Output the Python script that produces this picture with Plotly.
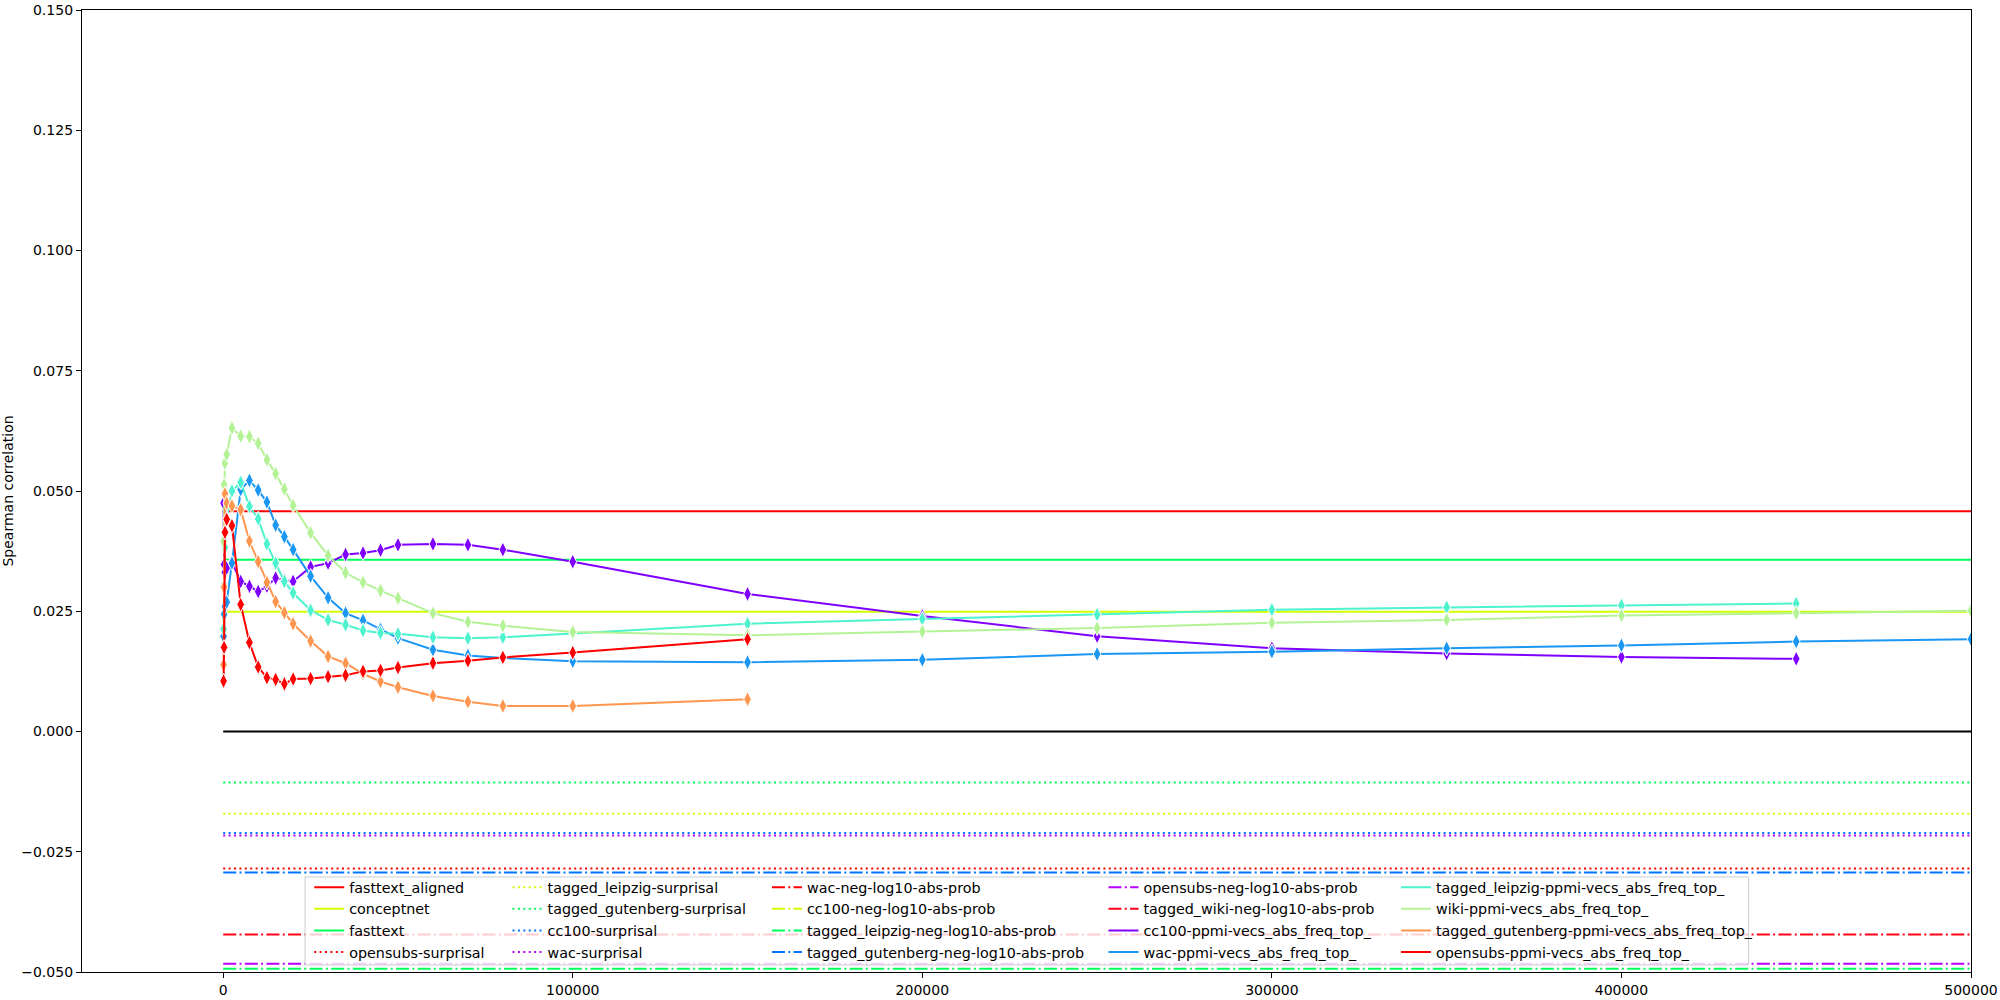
import plotly.graph_objects as go

# ---------------- data ----------------
X_GRID = [100, 250, 500, 1000, 2500, 5000, 7500, 10000, 12500, 15000, 17500, 20000,
          25000, 30000, 35000, 40000, 45000, 50000, 60000, 70000, 80000, 100000,
          150000, 200000, 250000, 300000, 350000, 400000, 450000, 500000]

cc100_ppmi = [0.0475, 0.0347, 0.0331, 0.0340, 0.0352, 0.0312, 0.0302, 0.0291, 0.0302, 0.0319,
              0.0315, 0.0312, 0.0342, 0.0350, 0.0368, 0.0371, 0.0377, 0.0388, 0.0390, 0.0388,
              0.0378, 0.0353, 0.0286, 0.0240, 0.0198, 0.0173, 0.0162, 0.0155, 0.0151]
wac_ppmi = [0.0198, 0.0244, 0.0260, 0.0269, 0.0350, 0.0503, 0.0522, 0.0502, 0.0477, 0.0429,
            0.0405, 0.0378, 0.0323, 0.0278, 0.0246, 0.0231, 0.0212, 0.0194, 0.0170, 0.0158,
            0.0153, 0.0146, 0.0144, 0.0149, 0.0161, 0.0166, 0.0173, 0.0179, 0.0187, 0.0192]
leipzig_ppmi = [0.0213, 0.0305, 0.0383, 0.0443, 0.0500, 0.0518, 0.0468, 0.0442, 0.0390, 0.0350,
                0.0312, 0.0288, 0.0252, 0.0232, 0.0222, 0.0210, 0.0205, 0.0203, 0.0196, 0.0194,
                0.0196, 0.0204, 0.0224, 0.0234, 0.0243, 0.0253, 0.0258, 0.0262, 0.0266]
wiki_ppmi = [0.0395, 0.0513, 0.0558, 0.0576, 0.0631, 0.0614, 0.0613, 0.0599, 0.0565, 0.0536,
             0.0504, 0.0470, 0.0413, 0.0366, 0.0330, 0.0310, 0.0293, 0.0277, 0.0246, 0.0228,
             0.0220, 0.0207, 0.0200, 0.0208, 0.0215, 0.0226, 0.0232, 0.0241, 0.0246, 0.0251]
gutenberg_ppmi = [0.0139, 0.0300, 0.0494, 0.0475, 0.0469, 0.0461, 0.0396, 0.0353, 0.0310, 0.0270,
                  0.0247, 0.0224, 0.0188, 0.0156, 0.0142, 0.0120, 0.0104, 0.0092, 0.0074, 0.0062,
                  0.0053, 0.0053, 0.0067]
opensubs_ppmi = [0.0105, 0.0175, 0.0414, 0.0441, 0.0428, 0.0264, 0.0185, 0.0134, 0.0112, 0.0108,
                 0.0099, 0.0109, 0.0110, 0.0114, 0.0117, 0.0125, 0.0127, 0.0133, 0.0142, 0.0147,
                 0.0154, 0.0164, 0.0192]

BASE_X = [0, 500000]
baseline_names = ["fasttext_aligned", "conceptnet", "fasttext",
                  "opensubs-surprisal", "tagged_leipzig-surprisal", "tagged_gutenberg-surprisal",
                  "cc100-surprisal", "wac-surprisal",
                  "wac-neg-log10-abs-prob", "cc100-neg-log10-abs-prob",
                  "tagged_leipzig-neg-log10-abs-prob", "tagged_gutenberg-neg-log10-abs-prob",
                  "opensubs-neg-log10-abs-prob", "tagged_wiki-neg-log10-abs-prob"]
baseline_values = [0.0458, 0.0249, 0.0357,
                   -0.0285, -0.0171, -0.0106, -0.0211, -0.0216,
                   -0.0560, -0.0580, -0.0493, -0.0293, -0.0483, -0.0422]
baseline_colors = ["#ff0000", "#d1ff00", "#00ff5c",
                   "#ff0000", "#d1ff00", "#00ff5c", "#0074ff", "#b900ff",
                   "#ff0000", "#d1ff00", "#00ff5c", "#0074ff", "#b900ff", "#ff0018"]
baseline_styles = ["solid", "solid", "solid",
                   "dot", "dot", "dot", "dot", "dot",
                   "dashdot", "dashdot", "dashdot", "dashdot", "dashdot", "dashdot"]

ppmi_names = ["cc100-ppmi-vecs_abs_freq_top_", "wac-ppmi-vecs_abs_freq_top_",
              "tagged_leipzig-ppmi-vecs_abs_freq_top_", "wiki-ppmi-vecs_abs_freq_top_",
              "tagged_gutenberg-ppmi-vecs_abs_freq_top_", "opensubs-ppmi-vecs_abs_freq_top_"]
ppmi_values = [cc100_ppmi, wac_ppmi, leipzig_ppmi, wiki_ppmi, gutenberg_ppmi, opensubs_ppmi]
ppmi_colors = ["#8000ff", "#1a96f3", "#4df3ce", "#b3f396", "#ff964f", "#ff0000"]

Y_TICKS = [-0.05, -0.025, 0.0, 0.025, 0.05, 0.075, 0.1, 0.125, 0.15]
X_TICKS = [0, 100000, 200000, 300000, 400000, 500000]

# ---------------- layout geometry ----------------
# The page is shown slightly scaled/offset (body margin); convert wanted screen
# pixels into figure pixels.
W, H = 2000, 1000
SX, BX, SY, BY = 0.991, 8.0, 0.984, 7.9


def fx(px):
    return (px - BX) / SX


def fy(py):
    return (py - BY) / SY


PL, PR, PT, PB = fx(84), fx(1970), fy(10), fy(972)


def paper_x(px):
    return (fx(px) - PL) / (PR - PL)


def paper_y(py):
    return (PB - fy(py)) / (PB - PT)


DASHES = {"solid": "solid", "dot": "2px,3.4px", "dashdot": "13px,3.3px,2px,3.3px"}
FONT = "DejaVu Sans"

# legend columns: 4 entries per column (column-major like matplotlib ncol=5)
legend_ids = ["legend", "legend2", "legend3", "legend4", "legend5"]
all_names = baseline_names + ppmi_names


def legend_for(name):
    return legend_ids[all_names.index(name) // 4]


fig = go.Figure()

for name, v, c, s in zip(baseline_names, baseline_values, baseline_colors, baseline_styles):
    fig.add_trace(go.Scatter(
        x=BASE_X, y=[v] * len(BASE_X), mode="lines", name=name,
        line=dict(color=c, width=2, dash=DASHES[s]),
        legend=legend_for(name), hoverinfo="skip"))

# zero reference line
fig.add_trace(go.Scatter(x=BASE_X, y=[0.0] * len(BASE_X), mode="lines",
                         line=dict(color="black", width=2), showlegend=False))

for name, vals, c in zip(ppmi_names, ppmi_values, ppmi_colors):
    fig.add_trace(go.Scatter(
        x=X_GRID[:len(vals)], y=vals, mode="lines+markers", name=name,
        line=dict(color=c, width=2),
        marker=dict(symbol="diamond-tall", size=11, color=c,
                    line=dict(color="white", width=1)),
        showlegend=False))
    # legend handle: line only (as in the reference)
    fig.add_trace(go.Scatter(
        x=[None], y=[None], mode="lines", name=name,
        line=dict(color=c, width=2), legend=legend_for(name)))

legend_text_x = [351, 549, 808, 1144, 1436]
first_row_center = 887
layout_legends = {}
for lid, tx in zip(legend_ids, legend_text_x):
    lx = (fx(tx) - 40.5 - PL) / (PR - PL)
    ly = (PB - (fy(first_row_center) - 15.8)) / (PB - PT)
    layout_legends[lid] = dict(
        x=lx, y=ly, xanchor="left", yanchor="top",
        bgcolor="rgba(0,0,0,0)", borderwidth=0,
        font=dict(family=FONT, size=14.3, color="black"),
        tracegroupgap=0, itemwidth=30)

fig.update_layout(
    width=W, height=H,
    margin=dict(l=PL, r=W - PR, t=PT, b=H - PB, pad=0),
    paper_bgcolor="white", plot_bgcolor="white",
    font=dict(family=FONT, size=14, color="black"),
    showlegend=True,
    **layout_legends,
    xaxis=dict(range=[-40400, 500000], tickvals=X_TICKS, tickformat="d",
               showgrid=False, zeroline=False, showline=True, linecolor="black",
               linewidth=1.3, mirror=True, ticks="outside", ticklen=5, tickcolor="black",
               tickfont=dict(family=FONT, size=14), ticklabeloverflow="allow"),
    yaxis=dict(range=[-0.05, 0.15], tickvals=Y_TICKS, tickformat=".3f",
               showgrid=False, zeroline=False, showline=True, linecolor="black",
               linewidth=1.3, mirror=True, ticks="outside", ticklen=5, tickcolor="black",
               tickfont=dict(family=FONT, size=14), ticklabeloverflow="allow",
               title=dict(text="Spearman correlation", standoff=9,
                          font=dict(family=FONT, size=14))),
    shapes=[dict(type="rect", xref="paper", yref="paper", layer="above",
                 x0=paper_x(306.7), x1=paper_x(1748),
                 y0=paper_y(965), y1=paper_y(877),
                 fillcolor="rgba(255,255,255,0.8)",
                 line=dict(color="#cccccc", width=1))],
)

fig.write_html("out.html")
